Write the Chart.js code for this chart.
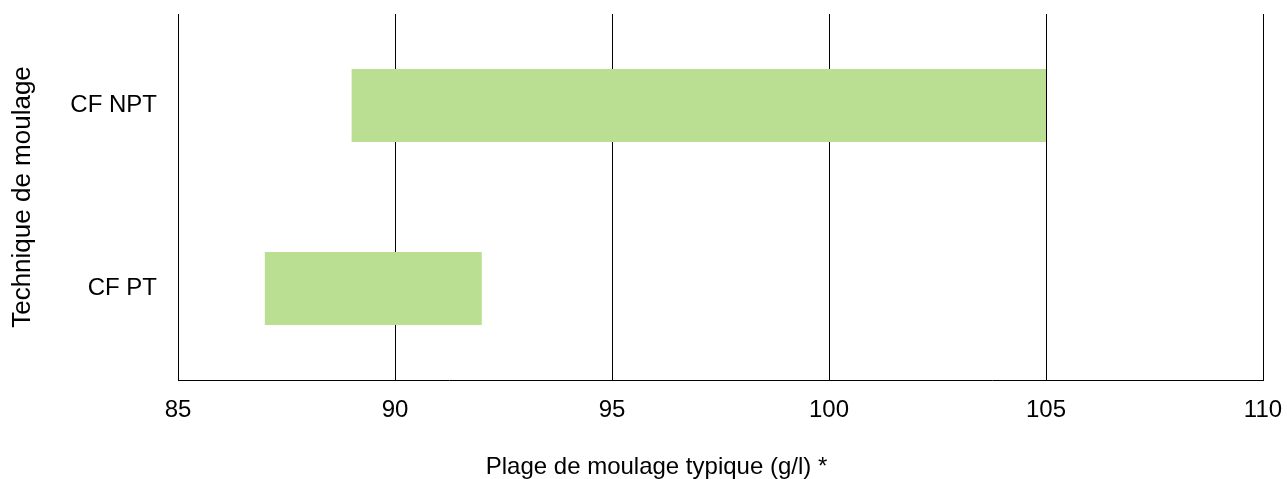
<!DOCTYPE html>
<html>
<head>
<meta charset="utf-8">
<script src="https://cdn.jsdelivr.net/npm/chart.js@4/dist/chart.umd.min.js"></script>
<style>
    body { margin: 0; background: #fff; overflow: hidden; }
    canvas { display: block; }
</style>
</head>
<body>
<canvas id="rangeChart" width="1287" height="490"></canvas>
<script>
let categories = ['CF NPT', 'CF PT'];
let rangeStart = [89, 87];
let rangeEnd = [105, 92];
let xMin = 85;
let xMax = 110;
let xStep = 5;
let xTitle = 'Plage de moulage typique (g/l) *';
let yTitle = 'Technique de moulage';

let barColor = '#bbdf92';
let fontFamily = '"Liberation Sans", Arial, sans-serif';


function buildRanges() {
    let ranges = [];

    for (let i = 0; i < categories.length; i++) {
        ranges.push([rangeStart[i], rangeEnd[i]]);
    }
    return ranges;
}


// x axis: fixed height, no extra side padding from the end labels
function fitXAxis(scale) {
    scale.height = 72.6;
    scale.paddingLeft = 0;
    scale.paddingRight = 0;
}


// y axis: fixed width so the plot starts where the reference does
function fitYAxis(scale) {
    scale.width = 128;
    scale.paddingTop = 0;
    scale.paddingBottom = 0;
}


function createRangeChart() {
    Chart.defaults.font.family = fontFamily;
    Chart.defaults.font.size = 24;
    Chart.defaults.color = '#000';

    new Chart('rangeChart', {
        type: 'bar',
        data: {
            labels: categories,
            datasets: [{
                data: buildRanges(),
                backgroundColor: barColor,
                borderWidth: 0,
                barPercentage: 0.4,
                categoryPercentage: 1
            }]
        },
        options: {
            indexAxis: 'y',
            responsive: false,
            animation: false,
            layout: { padding: { top: 14, right: 24, left: 50, bottom: 0 } },
            plugins: {
                legend: { display: false },
                tooltip: { enabled: false },
                subtitle: {
                    display: true,
                    position: 'bottom',
                    text: xTitle,
                    color: '#000',
                    font: { size: 24, weight: 'normal' },
                    padding: { top: 0, bottom: 8.6 }
                }
            },
            scales: {
                x: {
                    min: xMin,
                    max: xMax,
                    ticks: { stepSize: xStep, padding: 16, font: { size: 24 } },
                    grid: { color: '#000', lineWidth: 1, drawTicks: false },
                    border: { color: '#000', width: 1 },
                    afterFit: fitXAxis
                },
                y: {
                    ticks: { padding: 21, font: { size: 24 } },
                    grid: { display: false, drawTicks: false },
                    border: { color: '#000', width: 1 },
                    title: { display: true, text: yTitle, font: { size: 26 }, padding: { top: -43, bottom: 0 } },
                    afterFit: fitYAxis
                }
            }
        }
    });
}


createRangeChart();
</script>
</body>
</html>
